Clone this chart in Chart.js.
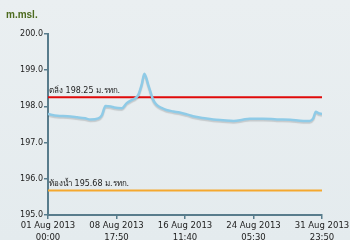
<!DOCTYPE html>
<html><head><meta charset="utf-8">
<script src="https://cdn.jsdelivr.net/npm/chart.js@4"></script>
<style>html,body{margin:0;padding:0;background:#e6ecef}#w{width:350px;height:240px}</style>
</head><body><div id="w"><canvas id="c"></canvas></div>
<script>
// time axis in days since 01 Aug 2013 00:00
const dayOffsets = [0,1.05,2.2,3.3,4.2,4.8,5.7,6.1,6.5,7.1,7.5,8.35,8.9,9.5,9.85,10.2,10.6,10.9,11.35,11.9,12.3,12.9,13.4,14.2,14.9,15.7,16.4,17.5,18.7,19.8,21.0,22.0,22.8,24.3,25.9,27.4,28.9,29.6,30.0,30.3,30.6,31.0];
const levels =     [197.79,197.74,197.73,197.70,197.67,197.64,197.67,197.76,198.01,198.00,197.97,197.95,198.09,198.18,198.22,198.31,198.60,198.90,198.59,198.18,198.04,197.95,197.90,197.86,197.83,197.78,197.73,197.68,197.64,197.62,197.60,197.63,197.66,197.66,197.64,197.63,197.60,197.60,197.67,197.85,197.81,197.79];
const bankLevel = 198.25;
const bedLevel = 195.68;
const bankLabel = 'ตลิ่ง 198.25 ม.รทก.';
const bedLabel = 'ท้องน้ำ 195.68 ม.รทก.';
const xMax = 30.993;
const xTickPos = [0, 7.748, 15.497, 23.245, 30.993];
const xTickLabels = [['01 Aug 2013','00:00'],['08 Aug 2013','17:50'],['16 Aug 2013','11:40'],['24 Aug 2013','05:30'],['31 Aug 2013','23:50']];
const yTicks = [195,196,197,198,199,200];
const axisTitle = 'm.msl.';

const FONT = "'DejaVu Sans', 'Noto Sans', sans-serif";
const AXIS = '#587c8c';

const bg = {
  id:'bg',
  beforeDraw(ch){
    const c=ch.ctx;c.save();
    const g=c.createLinearGradient(0,0,0,240);
    g.addColorStop(0,'#eaeff1');g.addColorStop(1,'#e4ebee');
    c.fillStyle=g;c.fillRect(0,0,ch.width,ch.height);
    c.fillStyle='#4d6b1f';c.font="bold 10px 'Liberation Sans', Arial, sans-serif";c.textBaseline='middle';
    c.fillText(axisTitle,6,15);
    c.restore();
  },
  afterDatasetsDraw(ch){
    const c=ch.ctx, y=ch.scales.y, x=ch.scales.x;
    c.save();c.fillStyle='#222';c.font="8px "+FONT;c.textBaseline='bottom';
    c.fillText(bankLabel,x.left+1,y.getPixelForValue(bankLevel)-2);
    c.fillText(bedLabel,x.left+1,y.getPixelForValue(bedLevel)-2);
    c.restore();
  }
};
const shadow = {
  id:'shadow',
  beforeDatasetDraw(ch,a){ if(a.index===0){const c=ch.ctx;c.save();c.shadowColor='rgba(0,0,0,0.15)';c.shadowBlur=1;c.shadowOffsetY=1.5;} },
  afterDatasetDraw(ch,a){ if(a.index===0){ch.ctx.restore();} }
};

new Chart(document.getElementById('c'),{
  type:'line',
  data:{datasets:[
    {data:dayOffsets.map((d,i)=>({x:d,y:levels[i]})),borderColor:'#8fcbe7',borderWidth:2.5,pointRadius:0,tension:0.3,cubicInterpolationMode:'monotone'},
    {data:[{x:0,y:bankLevel},{x:xMax,y:bankLevel}],borderColor:'#e00a0a',borderWidth:2,pointRadius:0},
    {data:[{x:0,y:bedLevel},{x:xMax,y:bedLevel}],borderColor:'#f5a82e',borderWidth:2,pointRadius:0}
  ]},
  options:{
    responsive:true,maintainAspectRatio:false,animation:false,
    layout:{padding:{top:34,right:28,left:0,bottom:0}},
    plugins:{legend:{display:false},tooltip:{enabled:false}},
    scales:{
      x:{type:'linear',min:0,max:xMax,
        afterBuildTicks(s){s.ticks=xTickPos.map(v=>({value:v}));},
        afterFit(s){s.height=25;s.paddingLeft=0;s.paddingRight=0;},
        ticks:{autoSkip:false,maxRotation:0,padding:1,color:'#222',font:{family:FONT,size:8.5,lineHeight:1.4},
          callback:(v,i)=>xTickLabels[i]},
        grid:{drawOnChartArea:false,drawTicks:true,tickLength:4,color:AXIS,lineWidth:1.5},
        border:{color:AXIS,width:2}},
      y:{min:195,max:200,
        afterBuildTicks(s){s.ticks=yTicks.map(v=>({value:v}));},
        afterFit(s){s.width=48;s.paddingTop=0;s.paddingBottom=0;},
        ticks:{padding:1,color:'#222',font:{family:FONT,size:8},callback:v=>v.toFixed(1)},
        grid:{drawOnChartArea:false,drawTicks:true,tickLength:4,color:AXIS,lineWidth:1.5},
        border:{color:AXIS,width:2}}
    }
  },
  plugins:[bg,shadow]
});
</script></body></html>
